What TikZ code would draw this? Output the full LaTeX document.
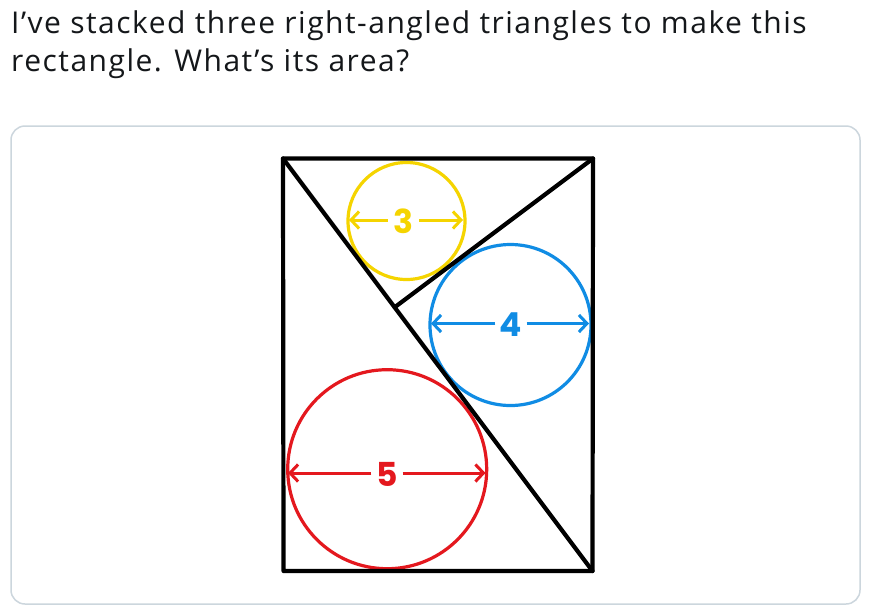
\documentclass[tikz,border=0pt]{standalone}
\usepackage{fontspec}
\setmainfont{Open Sans}[LetterSpace=5]
\newfontfamily\handfont{Poppins}
\usetikzlibrary{arrows.meta,calc}
\definecolor{ink}{RGB}{20,23,26}
\definecolor{cardline}{RGB}{204,214,221}
\definecolor{yel}{RGB}{245,212,0}
\definecolor{blu}{RGB}{16,140,228}
\definecolor{rd}{RGB}{228,24,30}
\begin{document}
\begin{tikzpicture}[x=1pt,y=-1pt,
 title/.style={anchor=base west,inner sep=0,text=ink,font=\fontsize{30}{34}\selectfont},
 edge/.style={line width=4.2pt,line cap=round,line join=round},
 ring/.style={circle,draw,line width=3.2pt,inner sep=0},
 dim/.style={line width=3pt,-{Straight Barb[length=8pt,width=17pt,line width=3pt]}},
 num/.style={inner sep=0,minimum width=31pt,minimum height=22pt,font=\handfont\bfseries\fontsize{33}{33}\selectfont}]
\useasboundingbox (0,0) rectangle (870,611);
\fill[white] (0,0) rectangle (870,611);
\node[title] (t1) at (11,33) {I’ve stacked three right-angled triangles to make this};
\node[title] (t2) at (11,71) {rectangle. What’s its area?};
\draw[cardline,line width=1.5pt,rounded corners=14pt] (11,126) rectangle (860,604);
% rectangle corners
\coordinate (TL) at (283,158.5);
\coordinate (TR) at (593,158.5);
\coordinate (BR) at (592.5,571);
\coordinate (BL) at (283.5,571);
\coordinate (F) at ($(TL)!(TR)!(BR)$);
% circles
\node[ring,draw=yel,minimum size=117pt] (cy) at (406.5,221) {};
\node[ring,draw=blu,minimum size=161pt] (cb) at (510.5,325) {};
\node[ring,draw=rd,minimum size=199pt] (cr) at (387.2,469.2) {};
% labels
\node[num,text=yel] (l3) at (403.5,221) {3};
\node[num,text=blu] (l4) at (511,324.5) {4};
\node[num,text=rd] (l5) at (387,474) {5};
\coordinate (y3l) at (349,220);
\coordinate (y3r) at (463,220);
\coordinate (b4l) at (431,323.5);
\coordinate (b4r) at (589,323.5);
\coordinate (r5l) at (288,473);
\coordinate (r5r) at (485.5,473);
\draw[dim,yel] (l3.west |- y3l) -- (y3l);
\draw[dim,yel] (l3.east |- y3r) -- (y3r);
\draw[dim,blu] (l4.west |- b4l) -- (b4l);
\draw[dim,blu] (l4.east |- b4r) -- (b4r);
\draw[dim,rd] (l5.west |- r5l) -- (r5l);
\draw[dim,rd] (l5.east |- r5r) -- (r5r);
% black lines
\draw[edge] (TL) -- (TR) -- (BR) -- (BL) -- cycle;
\draw[edge] (TL) -- (BR);
\draw[edge] (TR) -- (F);
\end{tikzpicture}
\end{document}
